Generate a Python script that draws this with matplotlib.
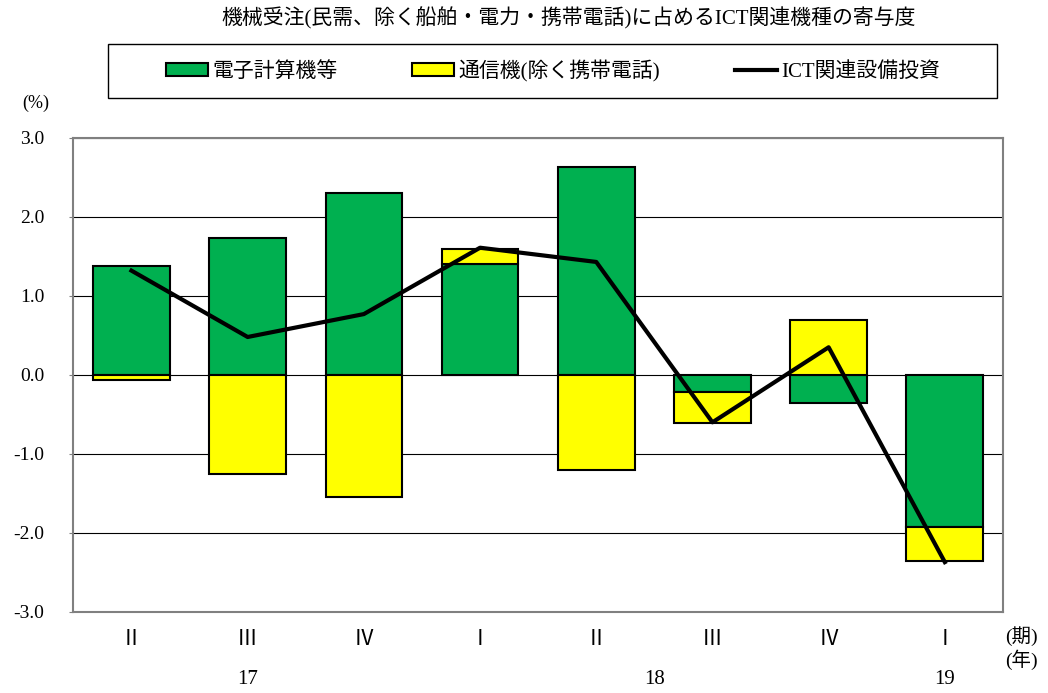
import numpy as np
import matplotlib
matplotlib.use('Agg')
import matplotlib.pyplot as plt
from matplotlib.patches import Patch, Rectangle
from matplotlib.lines import Line2D

plt.rcParams['font.family'] = ['Liberation Serif', 'Noto Sans CJK JP', 'DejaVu Sans']

# データ(寄与度, %)
quarters = ['Ⅱ', 'Ⅲ', 'Ⅳ', 'Ⅰ', 'Ⅱ', 'Ⅲ', 'Ⅳ', 'Ⅰ']
years = ['17', '18', '19']
year_pos = [1, 4.5, 7]
computer = np.array([1.38, 1.73, 2.30, 1.41, 2.63, -0.22, -0.36, -1.93])
telecom = np.array([-0.06, -1.25, -1.54, 0.19, -1.20, -0.39, 0.70, -0.43])
ict_total = np.array([1.32, 0.48, 0.77, 1.61, 1.43, -0.60, 0.35, -2.37])

GREEN = '#00B050'
YELLOW = '#FFFF00'

fig = plt.figure(figsize=(10.48, 6.93), dpi=100)
ax = fig.add_axes([0.070, 0.117, 0.887, 0.684])

x = np.arange(len(quarters))
w = 0.66

# 同符号なら積み上げ、異符号なら0から
tel_bottom = np.where(np.sign(computer) == np.sign(telecom), computer, 0)

ax.bar(x, computer, w, color=GREEN, edgecolor='black', linewidth=1.5, zorder=3)
ax.bar(x, telecom, w, bottom=tel_bottom, color=YELLOW, edgecolor='black', linewidth=1.5, zorder=3)
ax.plot(x, ict_total, color='black', linewidth=3, zorder=4)

ax.set_xlim(-0.5, 7.5)
ax.set_ylim(-3, 3)
ax.set_yticks(np.arange(-3, 3.1, 1))
ax.set_yticklabels(['%.1f' % v for v in np.arange(-3, 3.1, 1)], fontsize=14)
ax.tick_params(axis='y', length=3, pad=18, color='#808080')
ax.grid(axis='y', color='black', linewidth=0.8, zorder=0)

ax.set_xticks(x)
ax.set_xticklabels(quarters, fontsize=15)
ax.tick_params(axis='x', length=0, pad=14)

for s in ax.spines.values():
    s.set_color('#808080')
    s.set_linewidth(1.5)

tr = ax.get_xaxis_transform()
for yl, xp in zip(years, year_pos):
    ax.text(xp, -0.143, yl, transform=tr, ha='center', va='center', fontsize=15)
ax.text(1.02, -0.05, '(期)', transform=ax.transAxes, ha='center', va='center', fontsize=14)
ax.text(1.02, -0.10, '(年)', transform=ax.transAxes, ha='center', va='center', fontsize=14)

fig.text(0.034, 0.851, '(%)', ha='center', va='center', fontsize=13)

fig.text(0.543, 0.974, '機械受注(民需、除く船舶・電力・携帯電話)に占めるICT関連機種の寄与度',
         ha='center', va='center', fontsize=15)

# 凡例
fig.patches.append(Rectangle((108 / 1048, 1 - 98 / 693), 889 / 1048, 54 / 693,
                             transform=fig.transFigure, fill=False,
                             edgecolor='black', linewidth=1.0))
handles = [Patch(facecolor=GREEN, edgecolor='black', linewidth=1.5),
           Patch(facecolor=YELLOW, edgecolor='black', linewidth=1.5),
           Line2D([0], [0], color='black', linewidth=3)]
labels = ['電子計算機等', '通信機(除く携帯電話)', 'ICT関連設備投資']
fig.legend(handles, labels, loc='center', bbox_to_anchor=(553 / 1048, 1 - 71 / 693),
           ncol=3, frameon=False, fontsize=15, handlelength=2.0, handleheight=0.6,
           handletextpad=0.2, columnspacing=3.6)

plt.savefig('out.png', dpi=100)
